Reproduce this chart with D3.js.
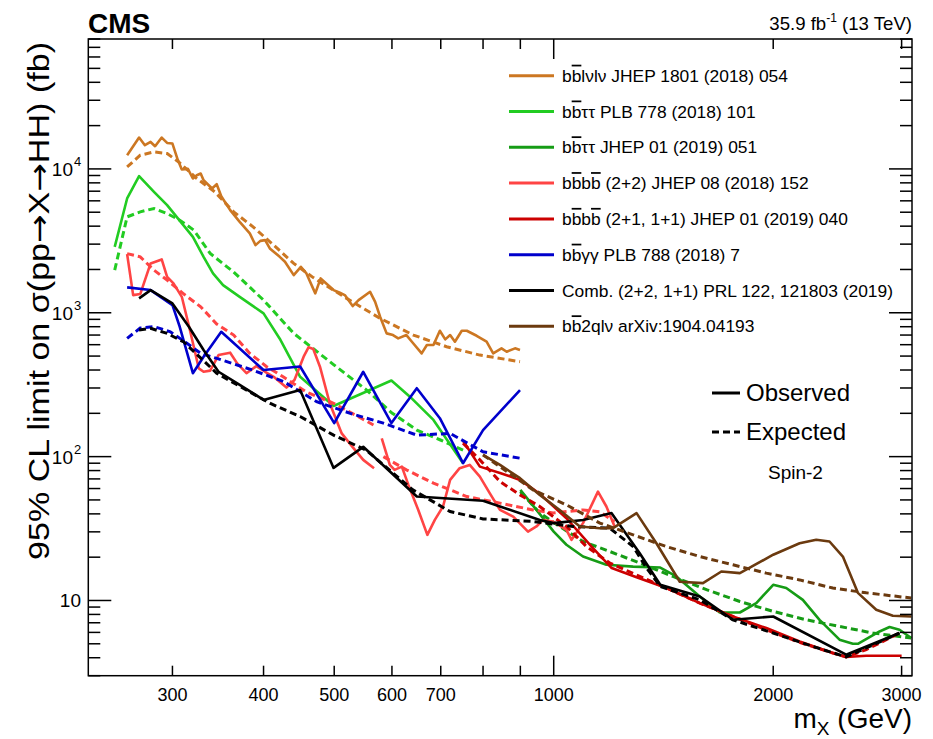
<!DOCTYPE html>
<html><head><meta charset="utf-8">
<script src="https://cdn.jsdelivr.net/npm/d3@7"></script>
<style>body{margin:0;background:#fff} text{font-family:"Liberation Sans",Arial,Helvetica,sans-serif}</style>
</head><body><svg id="c" width="933" height="739"></svg>
<script>
// ---------- data (m_X in GeV, limit in fb) ----------
const bblvlvObs = [[260,12450],[270,16520],[275,14610],[280,15400],[284,14380],[290,16520],[295,15160],[300,15010],[305,11620],[309,9905],[315,10000],[320,8577],[324,9042],[328,9292],[331,8347],[340,7311],[345,7830],[350,6463],[360,5168],[371,4284],[383,3560],[390,2952],[396,3162],[402,3198],[408,2801],[421,2448],[428,2261],[440,1827],[450,2086],[458,1877],[471,1364],[479,1733],[499,1438],[509,1377],[517,1327],[530,1113],[540,1225],[560,1399],[569,1192],[578,938],[590,719],[602,700],[612,664],[628,700],[639,629],[659,522],[670,597],[684,597],[698,750],[710,653],[721,700],[732,629],[748,750],[760,750],[784,692],[809,629],[826,522],[848,566],[862,536],[885,566],[899,551]];
const bblvlvExp = [[260,10320],[271,12450],[283,13120],[295,12790],[306,11180],[324,8577],[343,6922],[364,5029],[387,3956],[413,2952],[440,2203],[468,1756],[520,1259],[578,914],[642,700],[713,581],[792,508],[899,457]];

const bbttPlbObs = [[250,2873],[260,6229],[270,8898],[283,6922],[295,5596],[320,3372],[331,2448],[341,1877],[352,1557],[371,1291],[400,990],[421,660],[449,359],[499,225],[599,338],[635,261],[684,180],[751,90]];
const bbttPlbExp = [[250,1980],[260,4642],[271,5029],[283,5309],[295,4900],[307,4403],[321,3752],[338,2585],[364,1917],[400,1225],[440,719],[500,433],[554,290],[600,201],[649,153],[698,131],[751,111]];

const bbttJhepObs = [[900,58.7],[947,42.6],[1000,30.1],[1041,24.4],[1097,20.2],[1181,17.7],[1285,17.2],[1400,16.95],[1473,14.7],[1586,10.66],[1689,8.25],[1800,8.25],[1896,9.59],[2000,12.85],[2084,12.2],[2196,10.1],[2315,7.34],[2466,5.34],[2572,5.0],[2613,5.0],[2798,6.09],[2888,6.54],[2980,6.26],[3093,5.48]];
const bbttJhepExp = [[900,57.1],[957,40.5],[1019,32.7],[1097,25.7],[1194,21.9],[1312,18.2],[1457,14.7],[1620,11.9],[1800,9.84],[2000,8.39],[2220,7.34],[2466,6.6],[2740,5.94],[3093,5.48]];

const bbbb22ObsLow = [[260,2557],[265,1327],[271,1349],[280,2203],[290,2349],[295,1778],[301,1600],[309,1291],[317,759],[326,411],[331,389],[338,396],[347,508],[360,528],[368,445],[379,380],[391,426],[402,389],[413,359],[430,302],[441,341],[454,495],[461,575],[468,560],[478,422],[493,235],[512,145],[531,115],[548,94.9],[567,83.1]];
const bbbb22ObsHigh = [[581,134],[596,87.6],[605,80.9],[619,85.2],[632,63.6],[652,42.6],[671,28.6],[687,36.3],[705,45.0],[721,68.9],[743,83.1],[767,87.6],[792,72.6],[817,55.7],[844,42.6],[880,38.3],[922,30.1],[947,32.7],[967,36.3],[998,35.4],[1041,31.0],[1058,26.4],[1097,34.5],[1150,57.1],[1181,45.0],[1212,32.7]];
const bbbb22ExpLow = [[260,2577],[271,2448],[283,1980],[295,1687],[311,1349],[328,1101],[345,835],[364,700],[383,522],[404,422],[426,358],[458,281],[499,235],[566,166]];
const bbbb22ExpHigh = [[584,100],[628,80.9],[684,65.4],[760,52.8],[844,47.5],[937,42.6],[998,40.6],[1097,42.6],[1157,41.3],[1212,35.2]];

const bbbb2111Obs = [[751,129],[792,85.2],[844,77.0],[899,68.9],[957,55.1],[1041,37.3],[1127,23.7],[1201,16.8],[1299,14.5],[1428,12.2],[1586,9.59],[1761,7.74],[1957,6.43],[2174,5.19],[2414,4.31],[2518,4.05],[2683,4.13],[3000,4.13]];
const bbbb2111Exp = [[751,124],[792,94.9],[844,67.1],[899,54.2],[957,45.0],[1041,32.7],[1109,23.7],[1194,18.2],[1312,14.7],[1428,12.2],[1586,9.59],[1761,7.74],[1957,6.26],[2174,5.11],[2414,4.31],[2518,4.05],[2683,4.55],[2980,5.94]];

const bbggObs = [[260,1501],[280,1438],[300,1131],[307,799],[320,380],[331,495],[350,738],[400,400],[449,423],[500,171],[548,389],[599,171],[649,299],[698,185],[751,90],[800,153],[899,290]];
const bbggExp = [[260,664],[271,783],[283,802],[298,738],[311,636],[328,522],[345,482],[383,406],[426,333],[473,241],[526,200],[584,171],[649,141],[721,145],[800,108],[899,97.5]];

const combObs = [[270,1259],[280,1438],[300,1162],[316,799],[331,551],[347,389],[371,315],[400,248],[449,290],[499,83.5],[548,117],[649,52.8],[800,49.3],[957,36.3],[1000,34.5],[1097,36.3],[1200,40.6],[1312,21.3],[1400,12.85],[1586,10.66],[1761,7.34],[2000,7.74],[2518,4.2],[2980,5.94]];
const combExp = [[270,759],[280,779],[295,719],[311,626],[345,380],[408,235],[449,190],[499,141],[553,111],[641,58.7],[721,41.5],[800,36.9],[937,35.4],[1063,32.7],[1194,31.8],[1285,23.7],[1340,16.9],[1400,12.5],[1586,10.1],[1761,7.34],[2000,5.94],[2267,4.79],[2518,4.05],[2980,5.94]];

const bb2qlvObs = [[800,102.8],[844,87.6],[899,70.8],[957,54.2],[1019,42.6],[1086,32.7],[1157,31.8],[1206,31.8],[1299,40.5],[1383,25.0],[1489,13.5],[1602,13.2],[1698,15.9],[1800,15.5],[2000,20.8],[2174,25.0],[2291,26.4],[2389,25.7],[2492,20.2],[2613,11.3],[2769,8.62],[2918,7.83],[3093,7.74]];
const bb2qlvExp = [[800,102.8],[844,85.2],[937,58.7],[1041,46.2],[1157,34.5],[1285,28.6],[1428,23.7],[1586,20.2],[1761,17.7],[1957,15.5],[2174,13.9],[2414,12.2],[2683,11.3],[3093,10.4]];

const legendLabels = ["b{b}lνlν JHEP 1801 (2018) 054","b{b}ττ PLB 778 (2018) 101","b{b}ττ JHEP 01 (2019) 051","b{b}b{b} (2+2) JHEP 08 (2018) 152","b{b}b{b} (2+1, 1+1) JHEP 01 (2019) 040","b{b}γγ PLB 788 (2018) 7","Comb. (2+2, 1+1) PRL 122, 121803 (2019)","b{b}2qlν arXiv:1904.04193"];
const seriesColors = ["#cc7722","#22cc22","#169c16","#ff4444","#cc0000","#0000cc","#000000","#6b3a0f"];
const xTickValues = [300,400,500,600,700,800,900,1000,2000,3000];
const xMajorTicks = [1000];
const xTickLabels = [300,400,500,600,700,1000,2000,3000];
const yMajorTicks = [10,100,1000,10000];
const yTickExponents = [1,2,3,4];

// ---------- layout ----------
const W=933,H=739, L=88.3, R=912, T=39, B=675.7;
const svg=d3.select("#c");
svg.append("rect").attr("width",W).attr("height",H).attr("fill","#fff");
const x=d3.scaleLog().domain([230,3100]).range([L,R]);
const y=d3.scaleLog().domain([3,80000]).range([B,T]);

const series=[
 {obs:[bblvlvObs],exp:[bblvlvExp]},
 {obs:[bbttPlbObs],exp:[bbttPlbExp]},
 {obs:[bbttJhepObs],exp:[bbttJhepExp]},
 {obs:[bbbb22ObsLow,bbbb22ObsHigh],exp:[bbbb22ExpLow,bbbb22ExpHigh]},
 {obs:[bbbb2111Obs],exp:[bbbb2111Exp]},
 {obs:[bbggObs],exp:[bbggExp]},
 {obs:[combObs],exp:[combExp]},
 {obs:[bb2qlvObs],exp:[bb2qlvExp]}
].map((s,i)=>({...s,label:legendLabels[i],color:seriesColors[i]}));

svg.append("clipPath").attr("id","clip").append("rect").attr("x",L).attr("y",T).attr("width",R-L).attr("height",B-T);
const gLines=svg.append("g").attr("clip-path","url(#clip)");
const line=d3.line().x(d=>x(d[0])).y(d=>y(d[1]));
series.forEach(s=>{
  s.exp.forEach(seg=>gLines.append("path").attr("d",line(seg)).attr("fill","none")
     .attr("stroke",s.color).attr("stroke-width",3).attr("stroke-dasharray","7,4"));
  s.obs.forEach(seg=>gLines.append("path").attr("d",line(seg)).attr("fill","none")
     .attr("stroke",s.color).attr("stroke-width",2.6).attr("stroke-linejoin","round"));
});

// ---------- frame & ticks ----------
const ax=svg.append("g").attr("stroke","#000").attr("stroke-width",1.5);
ax.append("rect").attr("x",L).attr("y",T).attr("width",R-L).attr("height",B-T).attr("fill","none");
xTickValues.forEach(v=>{
  const len=xMajorTicks.includes(v)?20:10, px=x(v);
  ax.append("line").attr("x1",px).attr("x2",px).attr("y1",B).attr("y2",B-len);
  ax.append("line").attr("x1",px).attr("x2",px).attr("y1",T).attr("y2",T+len);
});
const yMinor=[];
[1,10,100,1000,10000].forEach(d=>{for(let k=2;k<=9;k++){const v=k*d; if(v>=3&&v<=80000) yMinor.push(v);}});
yMinor.concat(yMajorTicks).forEach(v=>{
  const len=yMajorTicks.includes(v)?23:12, py=y(v);
  ax.append("line").attr("x1",L).attr("x2",L+len).attr("y1",py).attr("y2",py);
  ax.append("line").attr("x1",R).attr("x2",R-len).attr("y1",py).attr("y2",py);
});
xTickLabels.forEach(v=>{
  svg.append("text").attr("x",x(v)).attr("y",701).attr("text-anchor","middle").attr("font-size",18).text(v);
});
yMajorTicks.forEach((v,i)=>{
  const e=yTickExponents[i];
  svg.append("text").attr("x",e===1?81:73).attr("y",y(v)+7).attr("text-anchor","end").attr("font-size",19).text("10");
  if(e>1) svg.append("text").attr("x",74).attr("y",y(v)-3).attr("font-size",13).text(e);
});

// ---------- titles ----------
const yt=svg.append("text").attr("transform","translate(49,301) rotate(-90)").attr("text-anchor","middle")
  .attr("font-size",29).attr("textLength",518).attr("lengthAdjust","spacingAndGlyphs");
["95% CL limit on σ(pp","→","X","→","HH) (fb)"].forEach(p=>{
  const ts=yt.append("tspan").text(p);
  if(p==="→") ts.style("font-family","'DejaVu Sans'");
});
const xt=svg.append("text").attr("x",912).attr("y",728).attr("text-anchor","end").attr("font-size",28);
xt.append("tspan").text("m");
xt.append("tspan").attr("font-size",19).attr("dy",7).text("X");
xt.append("tspan").attr("dy",-7).text(" (GeV)");
svg.append("text").attr("x",88).attr("y",33).attr("font-size",28).attr("font-weight","bold").text("CMS");
const lt=svg.append("text").attr("x",912).attr("y",30).attr("text-anchor","end").attr("font-size",18.6);
lt.append("tspan").text("35.9 fb");
lt.append("tspan").attr("font-size",12).attr("dy",-8).text("-1");
lt.append("tspan").attr("dy",8).text(" (13 TeV)");

// ---------- legend ----------
const legTop=75.7, legStep=35.8;
series.forEach((s,i)=>{
  const ly=legTop+i*legStep;
  svg.append("line").attr("x1",509).attr("x2",554).attr("y1",ly).attr("y2",ly).attr("stroke",s.color).attr("stroke-width",3);
  const t=svg.append("text").attr("x",562).attr("y",ly+6).attr("font-size",17.4);
  s.label.split(/(\{b\})/).filter(p=>p).forEach(p=>{
    if(p==="{b}") t.append("tspan").style("text-decoration","overline").text("b");
    else t.append("tspan").text(p);
  });
});
svg.append("line").attr("x1",712).attr("x2",740).attr("y1",393).attr("y2",393).attr("stroke","#000").attr("stroke-width",3);
svg.append("line").attr("x1",712).attr("x2",740).attr("y1",432).attr("y2",432).attr("stroke","#000").attr("stroke-width",3).attr("stroke-dasharray","7,4");
svg.append("text").attr("x",746).attr("y",401).attr("font-size",24).text("Observed");
svg.append("text").attr("x",746).attr("y",440).attr("font-size",24).text("Expected");
svg.append("text").attr("x",768).attr("y",479).attr("font-size",19).text("Spin-2");
</script></body></html>
